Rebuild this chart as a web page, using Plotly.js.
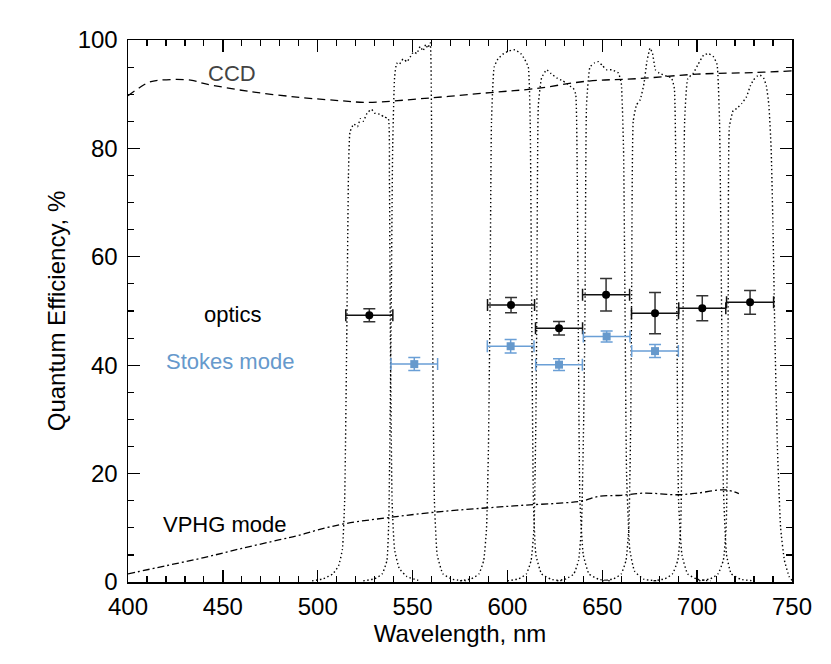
<!DOCTYPE html>
<html>
<head>
<meta charset="utf-8">
<script src="https://cdn.plot.ly/plotly-3.0.1.min.js"></script>
<style>html,body{margin:0;padding:0;background:#fff;}#chart{width:831px;height:664px;}</style>
</head>
<body>
<div id="chart"></div>
<script>
// CCD quantum efficiency (dashed)
const ccdWave = [400, 406, 411, 417, 433, 441, 464, 491, 512, 526, 559, 591, 614, 642, 670, 700, 730, 750];
const ccdQE   = [89.7, 91.2, 92.2, 92.6, 92.6, 91.9, 90.5, 89.4, 88.8, 88.5, 89.3, 90.3, 91.0, 92.4, 92.9, 93.7, 94.0, 94.3];

// VPHG mode (dash-dot)
const vphgWave = [400, 420, 440, 460, 480, 490, 500, 515, 540, 565, 590, 610, 630, 640, 648, 660, 672, 690, 700, 715, 722];
const vphgQE   = [1.5, 3.0, 4.5, 6.2, 7.8, 8.6, 9.6, 10.8, 12.0, 13.0, 13.7, 14.2, 14.6, 15.0, 15.8, 16.0, 16.4, 16.1, 16.4, 17.0, 16.3];

// Filter transmission curves (dotted)
const f1Wave = [497, 503, 508, 511, 513, 514.2, 515.3, 516.2, 517, 519, 521, 522.5, 524, 526, 528.4, 530, 532.8, 535, 537.2, 537.8, 538.3, 539.2, 540.5, 543, 547, 553];
const f1T    = [0.2, 0.6, 1.5, 3, 6, 15, 45, 75, 83, 84.5, 84, 85.5, 85, 86.5, 87.2, 86.5, 86.3, 85.8, 85.5, 75, 45, 15, 6, 2.5, 1, 0.3];
const f2Wave = [524, 530, 534, 536.5, 537.5, 538.6, 539.5, 540.5, 541.6, 543, 545, 547, 549, 550.5, 552.2, 554, 555.5, 557, 558, 559.3, 560, 560.6, 561.5, 563, 566, 571, 578];
const f2T    = [0.2, 0.6, 1.5, 4, 12, 45, 80, 93, 95.7, 95.5, 96.5, 96, 97, 97.8, 97.5, 98.8, 98, 99.2, 98.5, 99.5, 85, 45, 15, 5, 1.5, 0.5, 0.2];
const f3Wave = [575, 581, 585, 587.5, 589, 590, 590.8, 591.6, 593, 595, 598, 601, 604, 607, 609, 611, 612, 612.8, 613.7, 615, 618, 623, 630];
const f3T    = [0.2, 0.6, 1.5, 4, 10, 25, 50, 85, 95, 96.5, 97.5, 98, 98.2, 97.5, 96.5, 95, 85, 50, 15, 5, 1.5, 0.5, 0.2];
const f4Wave = [600, 606, 610, 612.5, 614, 615, 615.5, 616.3, 618, 620.7, 623, 626, 629, 631.2, 633, 634.7, 636, 636.8, 637.4, 638.2, 640, 643, 648, 655];
const f4T    = [0.2, 0.6, 1.5, 4, 10, 30, 50, 88, 93, 94.5, 93.8, 93, 92.5, 92, 91.5, 91.1, 90, 75, 45, 15, 5, 1.5, 0.5, 0.2];
const f5Wave = [626, 631, 635, 637.5, 639, 640.2, 640.9, 641.7, 643.5, 646, 648, 650, 652.3, 655, 658.5, 660, 661.2, 662, 662.8, 664.5, 667, 672, 680];
const f5T    = [0.2, 0.6, 1.5, 4, 10, 30, 50, 88, 95, 95.8, 96, 95.3, 94.5, 94.5, 93.9, 92, 80, 50, 20, 6, 2, 0.5, 0.2];
const f6Wave = [650, 656, 660, 662.5, 664, 665, 665.5, 666.3, 668, 670, 672, 673.5, 675.2, 676.5, 678, 680, 684, 686.5, 688, 688.8, 689.4, 690.2, 692, 695, 700, 707];
const f6T    = [0.2, 0.6, 1.5, 4, 10, 30, 55, 85, 88, 89, 92, 96, 98.5, 97.5, 94.5, 93.9, 93.3, 93, 91, 75, 45, 15, 5, 1.5, 0.5, 0.2];
const f7Wave = [677, 683, 687, 689.8, 691.3, 692.2, 692.7, 693.4, 695, 698, 700.5, 703.4, 706, 708.6, 710.5, 711.8, 712.9, 713.8, 715.5, 718, 723, 730];
const f7T    = [0.2, 0.6, 1.5, 4, 10, 30, 55, 85, 92.8, 93.9, 95.5, 97.2, 97.5, 96.9, 95.5, 85, 50, 18, 5, 1.5, 0.5, 0.2];
const f8Wave = [701, 707, 711, 713.8, 715.3, 716.1, 716.4, 717, 719, 721, 723.5, 726, 728, 729.6, 731.5, 733.2, 735, 736.5, 737.8, 739, 740, 741, 742.3, 744, 746, 748.5, 750];
const f8T    = [0.2, 0.6, 1.5, 4, 10, 30, 55, 84, 87, 87.4, 88.3, 89.5, 91.5, 92.6, 93.3, 93.5, 93, 91.5, 88, 80, 65, 45, 25, 10, 4, 1, 0.3];

// Optics measurements (black circles)
const opticsWave    = [527.2, 601.9, 627.2, 652.0, 677.8, 702.7, 727.9];
const opticsQE      = [49.2, 51.1, 46.8, 53.0, 49.6, 50.5, 51.6];
const opticsQEErr   = [1.2, 1.4, 1.25, 3.0, 3.8, 2.3, 2.2];
const opticsWaveErr = [12.4, 12.4, 12.4, 12.4, 12.4, 12.4, 12.4];

// Stokes mode measurements (blue squares)
const stokesWave    = [550.9, 601.7, 627.2, 652.3, 677.8];
const stokesQE      = [40.2, 43.5, 40.1, 45.3, 42.6];
const stokesQEErr   = [1.2, 1.25, 1.1, 1.0, 1.2];
const stokesWaveErr = [12.3, 12.3, 12.3, 12.3, 12.3];

const FONT = 'Liberation Sans, Arial, Helvetica, sans-serif';
const BLUE = '#6699cc';

const filters = [[f1Wave, f1T], [f2Wave, f2T], [f3Wave, f3T], [f4Wave, f4T],
                 [f5Wave, f5T], [f6Wave, f6T], [f7Wave, f7T], [f8Wave, f8T]];

const traces = filters.map(([x, y]) => ({
  x: x, y: y, type: 'scatter', mode: 'lines', showlegend: false, hoverinfo: 'skip',
  line: {color: '#000', width: 1.4, dash: '1.4px,2.6px', shape: 'spline', smoothing: 0.4}
}));

traces.push({
  x: ccdWave, y: ccdQE, type: 'scatter', mode: 'lines', showlegend: false,
  line: {color: '#000', width: 1.3, dash: '8px,5px', shape: 'spline'}
});
traces.push({
  x: vphgWave, y: vphgQE, type: 'scatter', mode: 'lines', showlegend: false,
  line: {color: '#000', width: 1.3, dash: '7px,3px,2px,3px', shape: 'spline'}
});
traces.push({
  x: opticsWave, y: opticsQE, type: 'scatter', mode: 'markers', showlegend: false,
  marker: {color: '#000', size: 8, symbol: 'circle'},
  error_x: {type: 'data', array: opticsWaveErr, visible: true, color: '#111', thickness: 1.5, width: 6},
  error_y: {type: 'data', array: opticsQEErr, visible: true, color: '#333', thickness: 1.5, width: 6}
});
traces.push({
  x: stokesWave, y: stokesQE, type: 'scatter', mode: 'markers', showlegend: false,
  marker: {color: BLUE, size: 8, symbol: 'square'},
  error_x: {type: 'data', array: stokesWaveErr, visible: true, color: '#6a9fd6', thickness: 1.5, width: 6},
  error_y: {type: 'data', array: stokesQEErr, visible: true, color: '#6a9fd6', thickness: 1.5, width: 6}
});

const layout = {
  width: 831, height: 664,
  margin: {l: 128, r: 39, t: 40, b: 82},
  paper_bgcolor: '#fff', plot_bgcolor: '#fff',
  font: {family: FONT, size: 24, color: '#000'},
  showlegend: false,
  xaxis: {
    range: [400, 750], dtick: 50, tick0: 400,
    showgrid: false, zeroline: false,
    showline: true, linecolor: '#000', linewidth: 1.5, mirror: 'ticks',
    ticks: 'inside', ticklen: 12, tickwidth: 1.3, tickcolor: '#000',
    minor: {dtick: 10, ticks: 'inside', ticklen: 6, tickwidth: 1.2, tickcolor: '#000', showgrid: false},
    tickfont: {family: FONT, size: 24}, ticklabelstandoff: 3,
    title: {text: 'Wavelength, nm', font: {family: FONT, size: 24}, standoff: 2}
  },
  yaxis: {
    range: [0, 100], dtick: 20, tick0: 0,
    showgrid: false, zeroline: false,
    showline: true, linecolor: '#000', linewidth: 1.5, mirror: 'ticks',
    ticks: 'inside', ticklen: 12, tickwidth: 1.3, tickcolor: '#000',
    minor: {dtick: 5, ticks: 'inside', ticklen: 6, tickwidth: 1.2, tickcolor: '#000', showgrid: false},
    tickfont: {family: FONT, size: 24}, ticklabelstandoff: 4,
    title: {text: 'Quantum Efficiency, %', font: {family: FONT, size: 24}, standoff: 5}
  },
  annotations: [
    {x: 454.8, y: 93.9, xref: 'x', yref: 'y', text: 'CCD', showarrow: false, font: {family: FONT, size: 22, color: '#444'}},
    {x: 455.3, y: 49.3, xref: 'x', yref: 'y', text: 'optics', showarrow: false, font: {family: FONT, size: 22, color: '#000'}},
    {x: 453.8, y: 40.6, xref: 'x', yref: 'y', text: 'Stokes mode', showarrow: false, font: {family: FONT, size: 22, color: BLUE}},
    {x: 451, y: 10.7, xref: 'x', yref: 'y', text: 'VPHG mode', showarrow: false, font: {family: FONT, size: 22, color: '#000'}}
  ]
};

Plotly.newPlot('chart', traces, layout, {displayModeBar: false, staticPlot: true});
</script>
</body>
</html>
